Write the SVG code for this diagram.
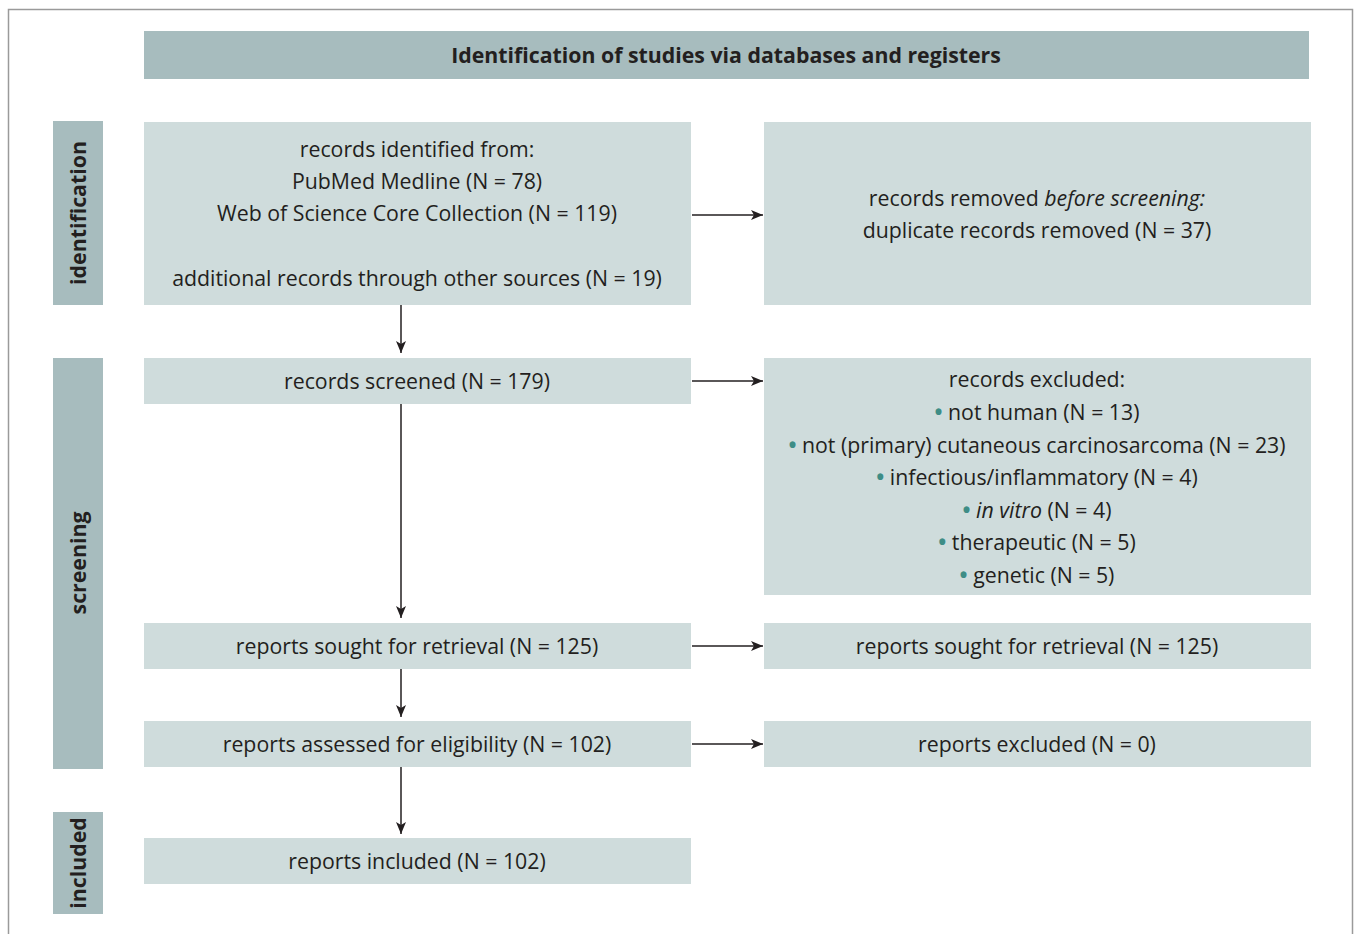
<svg xmlns="http://www.w3.org/2000/svg" width="1356" height="934" viewBox="0 0 1356 934">
<style>
.t{font-family:"Open Sans","Liberation Sans",sans-serif;font-size:21.3px;fill:#231f20;text-anchor:middle}
.b{font-weight:bold}
.box{fill:#cfdcdc}
.dark{fill:#a7bcbe}
.dot{fill:#3e8d86;font-weight:bold}
.c{stroke:#231f20;stroke-width:1.5;fill:none}
</style>
<defs>
<marker id="ah" viewBox="0 0 12 10" refX="12" refY="5" markerWidth="12" markerHeight="10" markerUnits="userSpaceOnUse" orient="auto">
<path d="M0,0 L12,5 L0,10 L3,5 Z" fill="#231f20"/>
</marker>
</defs>
<rect x="8.5" y="9.5" width="1344" height="940" fill="#fff" stroke="#9a9a9a" stroke-width="1.5"/>
<g id="header"><rect class="dark" x="144" y="31" width="1165" height="48"/><text class="t b" x="726" y="63">Identification of studies via databases and registers</text></g>
<g id="lab-identification"><rect class="dark" x="53" y="121" width="50" height="184"/><text class="t b" transform="translate(86,213) rotate(-90)">identification</text></g>
<g id="lab-screening"><rect class="dark" x="53" y="358" width="50" height="411"/><text class="t b" transform="translate(86,563) rotate(-90)">screening</text></g>
<g id="lab-included"><rect class="dark" x="53" y="812" width="50" height="102"/><text class="t b" transform="translate(86,863) rotate(-90)">included</text></g>
<g id="n-identified"><rect class="box" x="144" y="122" width="547" height="183"/>
<text class="t" x="417" y="157">records identified from:</text>
<text class="t" x="417" y="189">PubMed Medline (N = 78)</text>
<text class="t" x="417" y="221">Web of Science Core Collection (N = 119)</text>
<text class="t" x="417" y="286">additional records through other sources (N = 19)</text></g>
<g id="n-removed"><rect class="box" x="764" y="122" width="547" height="183"/>
<text class="t" x="1037" y="206">records removed <tspan font-style="italic">before screening:</tspan></text>
<text class="t" x="1037" y="238">duplicate records removed (N = 37)</text></g>
<g id="n-screened"><rect class="box" x="144" y="358" width="547" height="46"/><text class="t" x="417" y="389">records screened (N = 179)</text></g>
<g id="n-excluded"><rect class="box" x="764" y="358" width="547" height="237"/>
<text class="t" x="1037" y="387">records excluded:</text>
<text class="t" x="1037" y="420"><tspan class="dot">•</tspan> not human (N = 13)</text>
<text class="t" x="1037" y="453"><tspan class="dot">•</tspan> not (primary) cutaneous carcinosarcoma (N = 23)</text>
<text class="t" x="1037" y="485"><tspan class="dot">•</tspan> infectious/inflammatory (N = 4)</text>
<text class="t" x="1037" y="518"><tspan class="dot">•</tspan> <tspan font-style="italic">in vitro</tspan> (N = 4)</text>
<text class="t" x="1037" y="550"><tspan class="dot">•</tspan> therapeutic (N = 5)</text>
<text class="t" x="1037" y="583"><tspan class="dot">•</tspan> genetic (N = 5)</text></g>
<g id="n-sought"><rect class="box" x="144" y="623" width="547" height="46"/><text class="t" x="417" y="654">reports sought for retrieval (N = 125)</text></g>
<g id="n-sought2"><rect class="box" x="764" y="623" width="547" height="46"/><text class="t" x="1037" y="654">reports sought for retrieval (N = 125)</text></g>
<g id="n-assessed"><rect class="box" x="144" y="721" width="547" height="46"/><text class="t" x="417" y="752">reports assessed for eligibility (N = 102)</text></g>
<g id="n-repexcluded"><rect class="box" x="764" y="721" width="547" height="46"/><text class="t" x="1037" y="752">reports excluded (N = 0)</text></g>
<g id="n-included"><rect class="box" x="144" y="838" width="547" height="46"/><text class="t" x="417" y="869">reports included (N = 102)</text></g>
<g id="connectors">
<line class="c" x1="692" y1="215" x2="763" y2="215" marker-end="url(#ah)"/>
<line class="c" x1="692" y1="381" x2="763" y2="381" marker-end="url(#ah)"/>
<line class="c" x1="692" y1="646" x2="763" y2="646" marker-end="url(#ah)"/>
<line class="c" x1="692" y1="744" x2="763" y2="744" marker-end="url(#ah)"/>
<line class="c" x1="401" y1="305" x2="401" y2="353" marker-end="url(#ah)"/>
<line class="c" x1="401" y1="404" x2="401" y2="618" marker-end="url(#ah)"/>
<line class="c" x1="401" y1="669" x2="401" y2="717" marker-end="url(#ah)"/>
<line class="c" x1="401" y1="767" x2="401" y2="834" marker-end="url(#ah)"/>
</g>
</svg>
